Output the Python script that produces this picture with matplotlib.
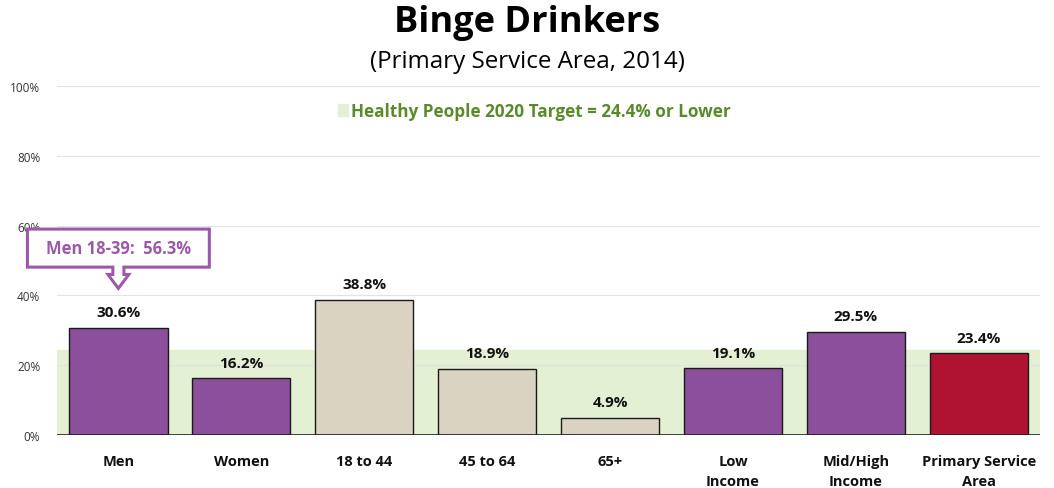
import matplotlib
matplotlib.use("Agg")
import matplotlib.pyplot as plt
from matplotlib.patches import Polygon, Rectangle
import numpy as np

plt.rcParams['font.family'] = ['Open Sans', 'DejaVu Sans']

categories = ["Men", "Women", "18 to 44", "45 to 64", "65+", "Low\nIncome",
              "Mid/High\nIncome", "Primary Service\nArea"]
values = [30.6, 16.2, 38.8, 18.9, 4.9, 19.1, 29.5, 23.4]
target = 24.4
callout_text = "Men 18-39:  56.3%"

purple = "#8B4F9B"
beige = "#DAD3C1"
red = "#B01232"
colors = [purple, purple, beige, beige, beige, purple, purple, red]

fig = plt.figure(figsize=(10.54, 4.89), dpi=100)
ax = fig.add_axes([0.054, 0.1084, 0.933, 0.7137])

x = np.arange(len(categories))
ax.set_xlim(-0.5, len(categories) - 0.5)
ax.set_ylim(0, 100)

# target band
ax.axhspan(0, target, color="#E3F0D4", zorder=0)
for t in [20, 40, 60, 80, 100]:
    ax.axhline(t, color="#E2E2E2", lw=0.8, zorder=0.5)

ax.bar(x, values, width=0.8, color=colors, edgecolor="#1a1a1a", lw=1.0, zorder=2)
ax.axhline(0, color="#222222", lw=1.2, zorder=3)

for xi, v in zip(x, values):
    ax.text(xi, v + 2.5, f"{v}%", ha="center", va="bottom", fontsize=11,
            fontweight="bold", color="#111111")

ax.set_yticks([0, 20, 40, 60, 80, 100])
ax.set_yticklabels([f"{t}%" for t in [0, 20, 40, 60, 80, 100]], fontsize=8.5, color="#333333")
ax.set_xticks(x)
ax.set_xticklabels(categories, fontsize=10.5, fontweight="bold", color="#111111",
                   linespacing=1.55, va="top")
ax.tick_params(length=0)
ax.tick_params(axis="x", pad=14)
ax.tick_params(axis="y", pad=12)
for s in ax.spines.values():
    s.set_visible(False)

# legend for target
ax.add_patch(Rectangle((1.79, 91.5), 0.08, 3.2, color="#E3F0D4", transform=ax.transData,
                       clip_on=False))
ax.text(1.89, 92.8, f"Healthy People 2020 Target = {target}% or Lower", fontsize=12.3,
        fontweight="bold", color="#5A8A2C", va="center", ha="left")

# callout box with arrow pointing at the Men bar
cx = x[0]
x0, x1 = cx - 0.74, cx + 0.74
yb, yt = 48.1, 59.0
w, hw = 0.045, 0.085
ys, tip = 46.0, 42.0
pts = [(x0, yb), (x0, yt), (x1, yt), (x1, yb), (cx + w, yb), (cx + w, ys),
       (cx + hw, ys), (cx, tip), (cx - hw, ys), (cx - w, ys), (cx - w, yb)]
ax.add_patch(Polygon(pts, closed=True, facecolor="white", edgecolor="#9B59A8",
                     lw=2.2, zorder=4, clip_on=False))
ax.text(cx, (yb + yt) / 2, callout_text, ha="center", va="center", fontsize=11.9,
        fontweight="bold", color="#9B59A8", zorder=5)

fig.text(0.5, 0.952, "Binge Drinkers", ha="center", va="center", fontsize=26,
         fontweight="bold", color="black")
fig.text(0.5, 0.873, "(Primary Service Area, 2014)", ha="center", va="center",
         fontsize=17.4, color="black")

fig.savefig("out.png", dpi=100)
